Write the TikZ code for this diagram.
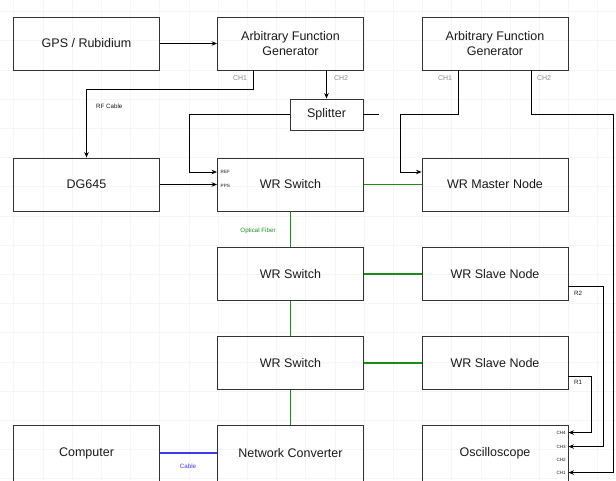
\documentclass[tikz,border=0pt]{standalone}
\usepackage{fontspec}
\setmainfont{Liberation Sans}
\usetikzlibrary{calc,arrows.meta}
\definecolor{edgecol}{HTML}{333333}
\definecolor{txtcol}{HTML}{1A1A1A}
\definecolor{portcol}{HTML}{8C8C8C}
\definecolor{fibercol}{HTML}{1A8C1A}
\definecolor{cablecol}{HTML}{3A3AF0}
\definecolor{gridcol}{HTML}{F6F6F6}
\begin{document}
\begin{tikzpicture}[x=1pt,y=-1pt,
  box/.style={draw=edgecol, line width=0.9pt, minimum width=146pt, minimum height=53pt,
    inner sep=0pt, align=center, text=txtcol, font=\fontsize{12.5}{14.5}\selectfont},
  lowbox/.style={box, minimum height=56pt},
  smallbox/.style={box, minimum width=73pt, minimum height=31pt},
  wire/.style={draw=black, line width=0.9pt},
  arr/.style={wire, -{Stealth[length=5.5pt,width=4.5pt]}},
  fiber/.style={draw=fibercol, line width=1.1pt},
  cable/.style={draw=cablecol, line width=1.1pt},
  portlab/.style={font=\fontsize{7}{8}\selectfont, text=portcol, inner sep=0pt},
  tinylab/.style={font=\fontsize{4.6}{5}\selectfont, text=txtcol, inner sep=0pt, anchor=west},
  scopelab/.style={font=\fontsize{4.6}{5}\selectfont, text=txtcol, inner sep=0pt, anchor=east},
  notelab/.style={font=\fontsize{6.2}{7}\selectfont, inner sep=0pt}
]
\useasboundingbox (0,0) rectangle (616,480);
\clip (0,0) rectangle (616,480);
\fill[white] (0,0) rectangle (616,480);
% faint background grid
\foreach \gx in {0,...,21} {\draw[gridcol, line width=0.4pt] ({13.5+\gx*29.2},0) -- ({13.5+\gx*29.2},480);}
\foreach \gy in {0,...,16} {\draw[gridcol, line width=0.4pt] (0,{11.4+\gy*29.2}) -- (616,{11.4+\gy*29.2});}

% boxes
\node[box] (gps) at (86.5,43.5) {GPS / Rubidium};
\node[box] (afga) at (290.5,43.5) {Arbitrary Function\\Generator};
\node[box] (afgb) at (495,43.5) {Arbitrary Function\\Generator};
\node[smallbox] (spl) at (326.5,114.5) {Splitter};
\node[box] (dg) at (86.5,184.5) {DG645};
\node[box] (swa) at (290.5,184.5) {WR Switch};
\node[box] (mst) at (495,184.5) {WR Master Node};
\node[box] (swb) at (290.5,274) {WR Switch};
\node[box] (sla) at (495,274) {WR Slave Node};
\node[box] (swc) at (290.5,363) {WR Switch};
\node[box] (slb) at (495,363) {WR Slave Node};
\node[lowbox] (pc) at (86.5,453) {Computer};
\node[lowbox] (nc) at (290.5,453) {Network Converter};
\node[lowbox] (osc) at (495,453) {Oscilloscope};

% ports
\coordinate (a1) at ($(afga.south west)+(36,0)$);
\coordinate (b1) at ($(afgb.south west)+(36.5,0)$);
\coordinate (b2) at ($(afgb.south west)+(109.5,0)$);
\coordinate (refin) at ($(swa.west)+(0,-12.5)$);
\coordinate (ppsin) at (swa.west);
\coordinate (mref) at ($(mst.west)+(0,-12.5)$);
\coordinate (r2) at ($(sla.east)+(0,12)$);
\coordinate (r1) at ($(slb.east)+(0,13)$);
\coordinate (o4) at ($(osc.north east)+(0,8)$);
\coordinate (o3) at ($(osc.north east)+(0,22)$);
\coordinate (o2) at ($(osc.north east)+(0,35)$);
\coordinate (o1) at ($(osc.north east)+(0,48)$);

% black connectors
\draw[arr] (gps) -- (afga);
\draw[arr] (a1) -- ++(0,19) -| (dg.north);
\draw[arr] (spl.north |- afga.south) -- (spl.north);
\draw[arr] (spl.west) -- ++(-100.5,0) |- (refin);
\draw[wire] (spl.east) -- ++(16,0);
\draw[arr] (dg) -- (ppsin);
\draw[arr] (b1) -- ++(0,44) -- ++(-58,0) |- (mref);
\draw[arr] (b2) -- ++(0,44) -| ($(o1)+(45,0)$) -- (o1);
\draw[arr] (r2) -- ++(35,0) |- (o3);
\draw[arr] (r1) -- ++(23,0) |- (o4);

% fiber and cable
\draw[fiber] (swa) -- (mst);
\draw[fiber] (swa) -- (swb);
\draw[fiber] (swb) -- (sla);
\draw[fiber] (swb) -- (swc);
\draw[fiber] (swc) -- (slb);
\draw[fiber] (swc) -- (nc);
\draw[cable] (pc) -- (nc);

% labels
\node[portlab] (lca1) at (240,78) {CH1};
\node[portlab] (lca2) at (341,78) {CH2};
\node[portlab] (lcb1) at (445,78) {CH1};
\node[portlab] (lcb2) at (544,78) {CH2};
\node[notelab, anchor=west, text=txtcol] (lrf) at (96,106) {RF Cable};
\node[tinylab] (lref) at (220.5,172) {REF};
\node[tinylab] (lpps) at (220.5,186) {PPS};
\node[notelab, text=fibercol] (lof) at (258,231) {Optical Fiber};
\node[notelab, text=cablecol] (lcab) at (188,466) {Cable};
\node[notelab, anchor=west, text=txtcol] (lr2) at (574,293) {R2};
\node[notelab, anchor=west, text=txtcol] (lr1) at (574,382) {R1};
\node[scopelab] (s4) at ($(o4)+(-2.5,0)$) {CH4};
\node[scopelab] (s3) at ($(o3)+(-2.5,0)$) {CH3};
\node[scopelab] (s2) at ($(o2)+(-2.5,0)$) {CH2};
\node[scopelab] (s1) at ($(o1)+(-2.5,0)$) {CH1};
\end{tikzpicture}
\end{document}
